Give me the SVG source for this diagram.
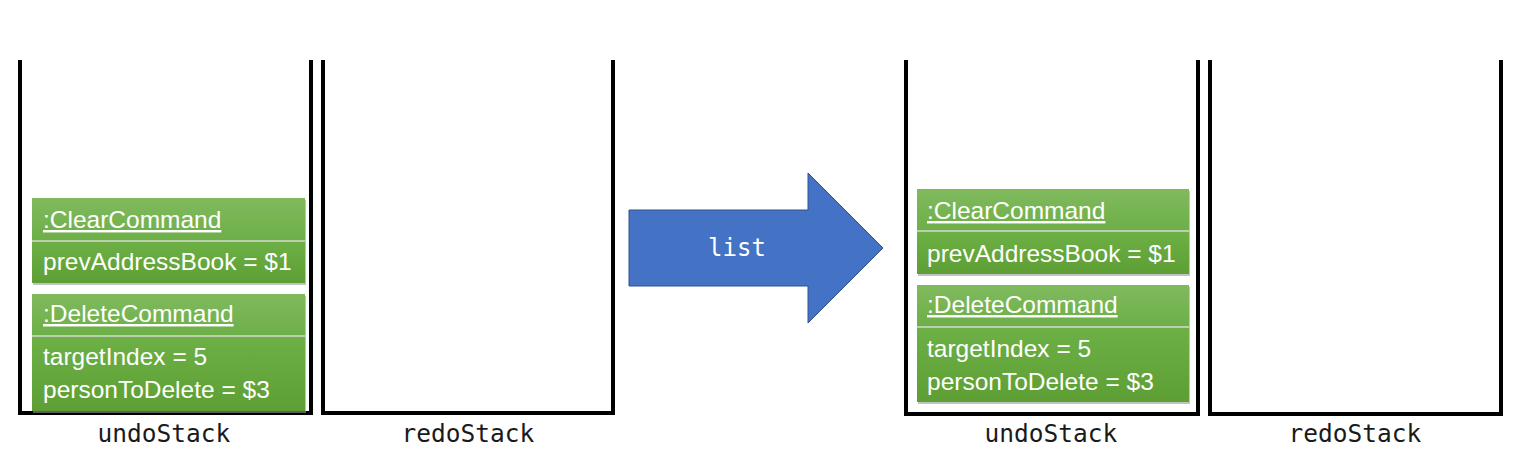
<svg xmlns="http://www.w3.org/2000/svg" width="1526" height="459" viewBox="0 0 1526 459">
<style>
.stack{fill:none;stroke:#000;stroke-width:4;stroke-linejoin:miter}
.lbl{font-family:"DejaVu Sans Mono","Liberation Mono",monospace;font-size:24.5px;fill:#1a1a1a;text-anchor:middle}
.t{font-family:"Liberation Sans",Arial,sans-serif;font-size:24.5px;fill:#fff}
.u{text-decoration:underline}
.hdr{fill:url(#gh)}
.body{fill:url(#gb)}
.div{stroke:#b9cfae;stroke-width:2}
.sh{fill:#9a9a9a;opacity:0.6}
</style>
<defs>
<linearGradient id="gh" x1="0" y1="0" x2="0" y2="1">
<stop offset="0" stop-color="#80ba5e"/>
<stop offset="1" stop-color="#6daf48"/>
</linearGradient>
<linearGradient id="gb" x1="0" y1="0" x2="0" y2="1">
<stop offset="0" stop-color="#6db046"/>
<stop offset="1" stop-color="#5d9f35"/>
</linearGradient>
</defs>
<g id="undoStack1">
<path class="stack" d="M20 60 V413 H311 V60"/>
<text class="lbl" x="164" y="442">undoStack</text>
</g>
<g id="redoStack1">
<path class="stack" d="M323 60 V413 H613 V60"/>
<text class="lbl" x="468" y="442">redoStack</text>
</g>
<g id="undoStack2">
<path class="stack" d="M906 60 V414 H1198 V60"/>
<text class="lbl" x="1051" y="442">undoStack</text>
</g>
<g id="redoStack2">
<path class="stack" d="M1210 60 V414 H1501 V60"/>
<text class="lbl" x="1355" y="442">redoStack</text>
</g>
<g id="clear1">
<rect class="sh" x="33" y="200" width="273" height="85"/>
<rect class="hdr" x="32" y="198" width="273" height="43"/>
<rect class="body" x="32" y="241" width="273" height="42"/>
<line class="div" x1="32" y1="241" x2="305" y2="241"/>
<text class="t u" x="43" y="228">:ClearCommand</text>
<text class="t" x="43" y="270">prevAddressBook = $1</text>
</g>
<g id="delete1">
<rect class="sh" x="33" y="296" width="273" height="117"/>
<rect class="hdr" x="32" y="294" width="273" height="42"/>
<rect class="body" x="32" y="336" width="273" height="75"/>
<line class="div" x1="32" y1="336" x2="305" y2="336"/>
<text class="t u" x="43" y="322">:DeleteCommand</text>
<text class="t" x="43" y="365">targetIndex = 5</text>
<text class="t" x="43" y="398">personToDelete = $3</text>
</g>
<g id="arrow">
<path d="M629 210 H808 V173 L883 248 L808 323 V286 H629 Z" fill="#4472c4" stroke="#2f528f" stroke-width="1"/>
<text x="737" y="256" style="font-family:'DejaVu Sans Mono','Liberation Mono',monospace;font-size:24px;fill:#fff;text-anchor:middle">list</text>
</g>
<g id="clear2">
<rect class="sh" x="918" y="191" width="272" height="85"/>
<rect class="hdr" x="917" y="189" width="272" height="42"/>
<rect class="body" x="917" y="231" width="272" height="43"/>
<line class="div" x1="917" y1="231" x2="1189" y2="231"/>
<text class="t u" x="927" y="219">:ClearCommand</text>
<text class="t" x="927" y="262">prevAddressBook = $1</text>
</g>
<g id="delete2">
<rect class="sh" x="918" y="287" width="272" height="117"/>
<rect class="hdr" x="917" y="285" width="272" height="42"/>
<rect class="body" x="917" y="327" width="272" height="75"/>
<line class="div" x1="917" y1="327" x2="1189" y2="327"/>
<text class="t u" x="927" y="313">:DeleteCommand</text>
<text class="t" x="927" y="357">targetIndex = 5</text>
<text class="t" x="927" y="390">personToDelete = $3</text>
</g>
<g id="connectors"></g>
</svg>
